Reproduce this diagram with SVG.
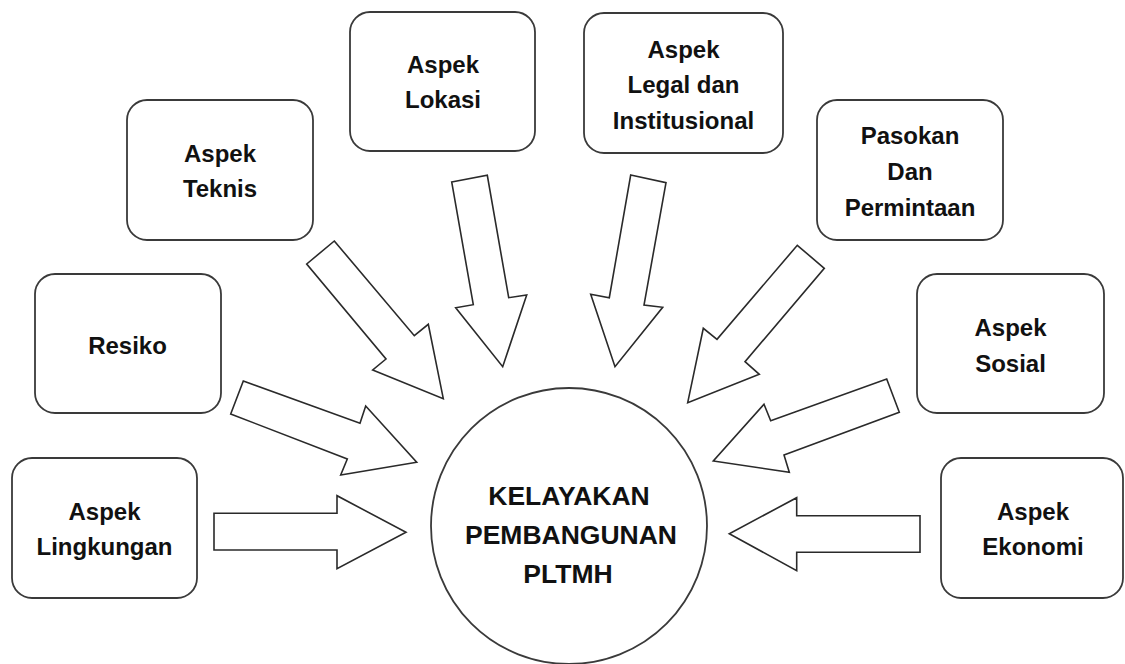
<svg xmlns="http://www.w3.org/2000/svg" width="1125" height="664" viewBox="0 0 1125 664">
<style>
.box{fill:#fff;stroke:#3a3a3a;stroke-width:1.8}
.arr{fill:#fff;stroke:#2a2a2a;stroke-width:1.6;stroke-linejoin:miter}
.t{font-family:"Liberation Sans",Arial,sans-serif;font-weight:bold;font-size:24px;fill:#111;text-anchor:middle}
.c{font-size:26.5px}
</style>
<rect width="1125" height="664" fill="#fff"/>
<g id="connectors">
<polygon class="arr" points="214,513.3 337,513.3 337,495.7 406,532.3 337,568.7 337,550 214,550"/>
<polygon class="arr" points="243.3,381 360,423.3 365.7,406 416.7,462.3 340.7,475 347.3,459 230.7,414"/>
<polygon class="arr" points="334.3,241 414.3,335.7 428.3,324.3 443.3,398.7 372.7,370 386,359 306.7,264"/>
<polygon class="arr" points="451.7,182 487.3,175.3 508.7,297.7 526.7,295 502.7,366.7 455.7,307.7 473.3,304.7"/>
<polygon class="arr" points="630.7,175 666,182.7 644,305 662.7,307.3 615,366.7 590.7,294.3 609.3,297.7"/>
<polygon class="arr" points="797.3,245.3 824.3,268.3 745,361.7 759.3,374.3 687.7,402.7 703.3,328.3 717,339.3"/>
<polygon class="arr" points="886.7,379 899.3,412.3 784,455 789.3,472.3 713.3,461 764,404.3 770.7,420.7"/>
<polygon class="arr" points="920,515.7 796.7,515.7 796.7,497.7 729.3,533.7 796.7,570.7 796.7,552.3 920,552.3"/>
</g>
<g id="center">
<circle class="box" cx="569" cy="526" r="138"/>
<text class="t c" x="569" y="505">KELAYAKAN</text>
<text class="t c" x="571" y="543.5">PEMBANGUNAN</text>
<text class="t c" x="568" y="583">PLTMH</text>
</g>
<g id="lingkungan">
<rect class="box" x="12" y="458" width="185" height="140" rx="20"/>
<text class="t" x="104.5" y="519.5">Aspek</text>
<text class="t" x="104.5" y="555">Lingkungan</text>
</g>
<g id="resiko">
<rect class="box" x="35" y="274" width="186" height="139" rx="20"/>
<text class="t" x="127.5" y="353.5">Resiko</text>
</g>
<g id="teknis">
<rect class="box" x="127" y="100" width="186" height="140" rx="20"/>
<text class="t" x="220" y="161.5">Aspek</text>
<text class="t" x="220" y="197">Teknis</text>
</g>
<g id="lokasi">
<rect class="box" x="350" y="12" width="185" height="139" rx="20"/>
<text class="t" x="443" y="73">Aspek</text>
<text class="t" x="443" y="108">Lokasi</text>
</g>
<g id="legal">
<rect class="box" x="584" y="13" width="199" height="140" rx="20"/>
<text class="t" x="683.5" y="57.5">Aspek</text>
<text class="t" x="683.5" y="93">Legal dan</text>
<text class="t" x="683.5" y="128.5">Institusional</text>
</g>
<g id="pasokan">
<rect class="box" x="817" y="100" width="186" height="140" rx="20"/>
<text class="t" x="910" y="144">Pasokan</text>
<text class="t" x="910" y="180">Dan</text>
<text class="t" x="910" y="216">Permintaan</text>
</g>
<g id="sosial">
<rect class="box" x="917" y="274" width="187" height="139" rx="20"/>
<text class="t" x="1010.5" y="336">Aspek</text>
<text class="t" x="1010.5" y="371.5">Sosial</text>
</g>
<g id="ekonomi">
<rect class="box" x="941" y="458" width="182" height="140" rx="20"/>
<text class="t" x="1033" y="520">Aspek</text>
<text class="t" x="1033" y="555">Ekonomi</text>
</g>
</svg>
